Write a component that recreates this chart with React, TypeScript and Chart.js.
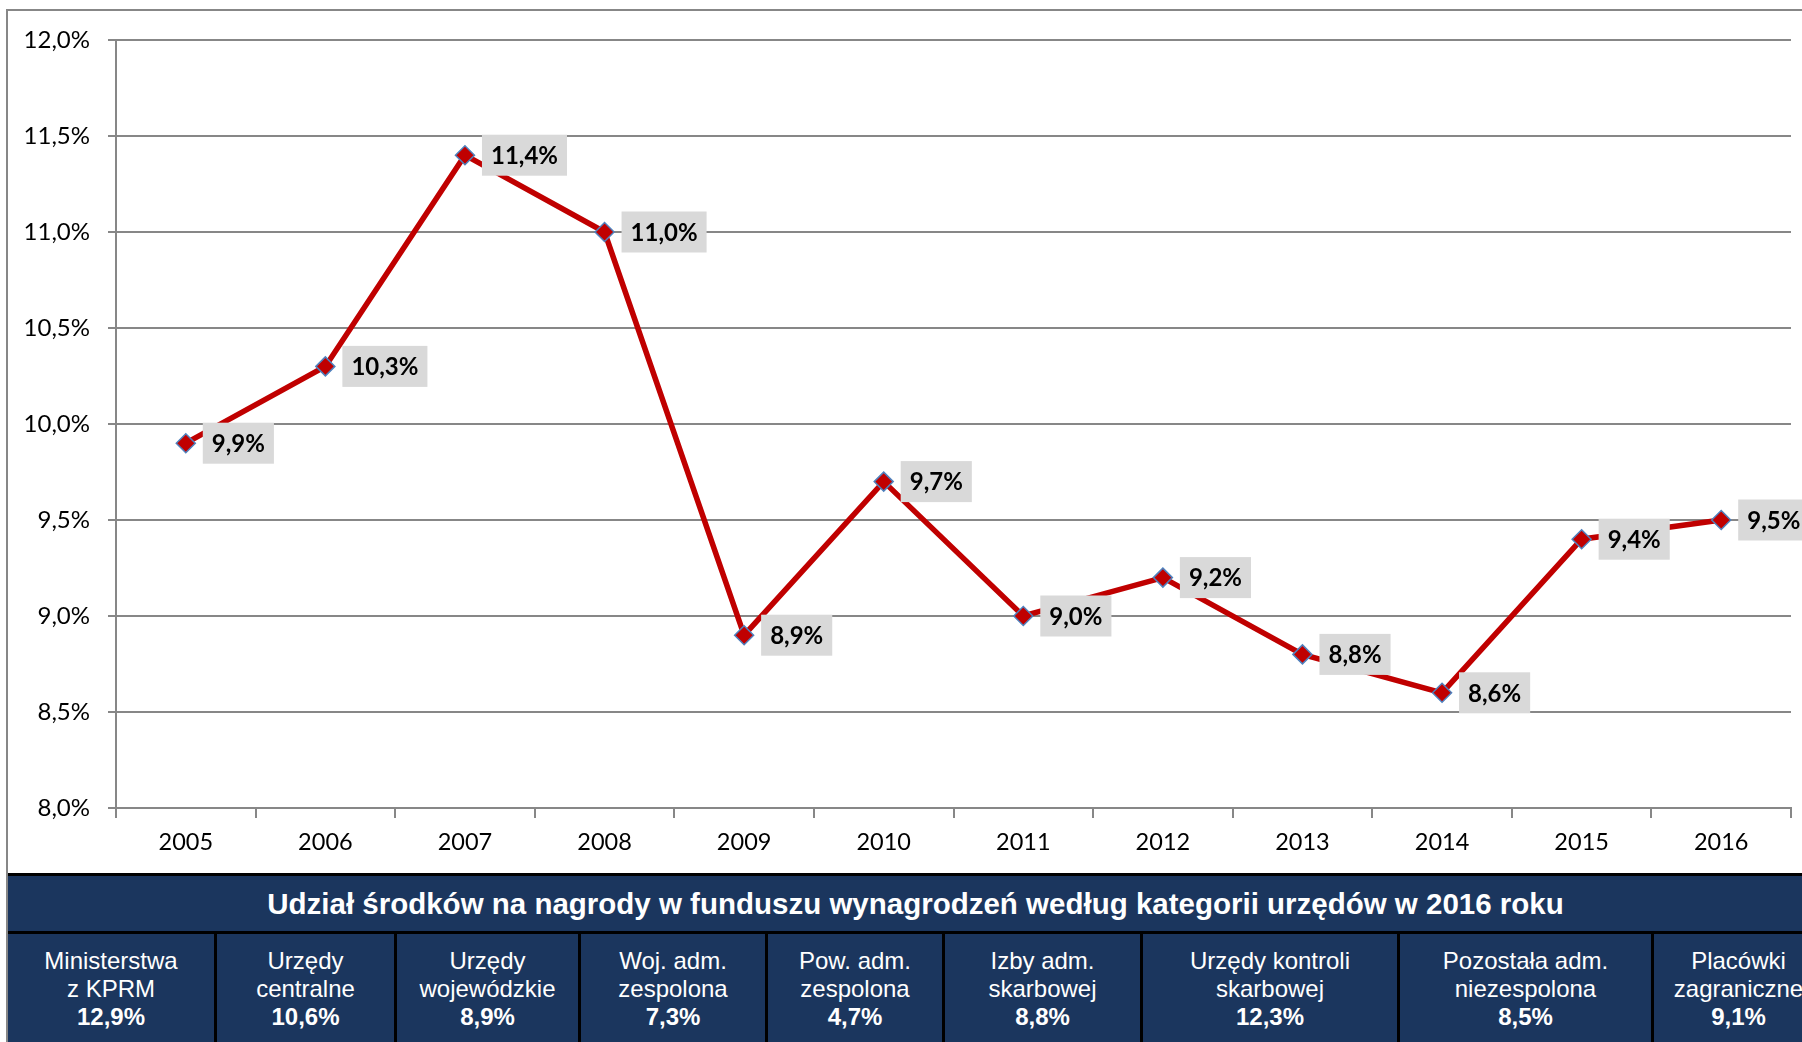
import React, { useEffect, useRef } from 'react';
import { Chart, registerables } from 'chart.js';

Chart.register(...registerables);

// ---- data ----
const years = ['2005', '2006', '2007', '2008', '2009', '2010', '2011', '2012', '2013', '2014', '2015', '2016'];
const shareValues = [9.9, 10.3, 11.4, 11.0, 8.9, 9.7, 9.0, 9.2, 8.8, 8.6, 9.4, 9.5];
const yMin = 8;
const yMax = 12;
const yStep = 0.5;

const tableTitle = 'Udział środków na nagrody w funduszu wynagrodzeń według kategorii urzędów w 2016 roku';
const officeCategories = [
  ['Ministerstwa', 'z KPRM'],
  ['Urzędy', 'centralne'],
  ['Urzędy', 'wojewódzkie'],
  ['Woj. adm.', 'zespolona'],
  ['Pow. adm.', 'zespolona'],
  ['Izby adm.', 'skarbowej'],
  ['Urzędy kontroli', 'skarbowej'],
  ['Pozostała adm.', 'niezespolona'],
  ['Placówki', 'zagraniczne'],
];
const officeShares = [12.9, 10.6, 8.9, 7.3, 4.7, 8.8, 12.3, 8.5, 9.1];

// ---- layout ----
const columnWidths = [206, 180, 184, 187, 177, 198, 257, 254, 172];
const NAVY = '#1b365e';
const GRID = '#878787';

const fmt = (v: number) => v.toFixed(1).replace('.', ',') + '%';

const labelPlugin = {
  id: 'boxLabels',
  afterDatasetsDraw(chart: any) {
    const ctx = chart.ctx;
    const meta = chart.getDatasetMeta(0);
    ctx.save();
    ctx.font = 'bold 24px Lato';
    ctx.textAlign = 'left';
    ctx.textBaseline = 'middle';
    meta.data.forEach((pt: any, i: number) => {
      const txt = fmt(shareValues[i]);
      const w = ctx.measureText(txt).width + 18;
      const h = 41;
      const x = pt.x + 17;
      const y = pt.y - h / 2;
      ctx.fillStyle = '#d9d9d9';
      ctx.fillRect(x, y, w, h);
      ctx.fillStyle = '#000000';
      ctx.fillText(txt, x + 9, pt.y + 1);
    });
    ctx.restore();
  },
};

function LineChart() {
  const ref = useRef<HTMLCanvasElement | null>(null);
  useEffect(() => {
    if (!ref.current) return;
    const chart = new Chart(ref.current, {
      type: 'line',
      data: {
        labels: years,
        datasets: [
          {
            data: shareValues,
            borderColor: '#c00000',
            borderWidth: 5.5,
            pointStyle: 'rectRot',
            pointRadius: 9.5,
            pointBackgroundColor: '#c00000',
            pointBorderColor: '#4f81bd',
            pointBorderWidth: 1.5,
            tension: 0,
            clip: false,
          } as any,
        ],
      },
      options: {
        responsive: false,
        animation: false,
        devicePixelRatio: 1,
        layout: { padding: { top: 40, right: 10, left: 0, bottom: 0 } },
        plugins: { legend: { display: false }, tooltip: { enabled: false } },
        scales: {
          x: {
            type: 'category',
            offset: true,
            grid: {
              offset: true,
              drawOnChartArea: false,
              drawTicks: true,
              tickLength: 10,
              color: GRID,
              lineWidth: 2,
            },
            border: { display: true, color: GRID, width: 2 },
            ticks: { font: { family: 'Lato', size: 23.5 }, color: '#000', padding: 10, maxRotation: 0 },
            afterFit: (s: any) => { s.height = 65; },
          },
          y: {
            min: yMin,
            max: yMax,
            ticks: {
              stepSize: yStep,
              font: { family: 'Lato', size: 24 },
              color: '#000',
              padding: 18,
              callback: (v: any) => fmt(Number(v)),
            },
            grid: { color: GRID, lineWidth: 2, drawTicks: true, tickLength: 8 },
            border: { display: true, color: GRID, width: 2 },
            afterFit: (s: any) => { s.width = 116; },
          },
        },
      },
      plugins: [labelPlugin],
    } as any);
    return () => chart.destroy();
  }, []);
  return (
    <canvas
      ref={ref}
      width={1802}
      height={873}
      style={{ position: 'absolute', left: 0, top: 0, width: 1802, height: 873 }}
    />
  );
}

export default function App() {
  return (
    <div
      style={{
        position: 'fixed',
        left: 0,
        top: 0,
        width: 1802,
        height: 1042,
        overflow: 'hidden',
        background: '#ffffff',
      }}
    >
      <div
        style={{
          position: 'absolute',
          left: 6,
          top: 9,
          width: 1900,
          height: 1100,
          borderLeft: `2px solid ${GRID}`,
          borderTop: `2px solid ${GRID}`,
          boxSizing: 'border-box',
        }}
      />
      <LineChart />
      <div
        style={{
          position: 'absolute',
          left: 8,
          top: 873,
          width: 1815,
          height: 200,
          background: NAVY,
          borderTop: '3px solid #000',
          boxSizing: 'border-box',
          fontFamily: '"Liberation Sans", Arial, sans-serif',
          color: '#ffffff',
        }}
      >
        <div
          style={{
            height: 55,
            display: 'flex',
            alignItems: 'center',
            justifyContent: 'center',
            fontWeight: 'bold',
            fontSize: 29.5,
            borderBottom: '3px solid #000',
          }}
        >
          {tableTitle}
        </div>
        <div style={{ display: 'flex' }}>
          {officeCategories.map((lines, i) => (
            <div
              key={i}
              style={{
                width: columnWidths[i],
                boxSizing: 'border-box',
                borderLeft: i === 0 ? 'none' : '3px solid #000',
                height: 140,
                paddingTop: 13,
                textAlign: 'center',
                fontSize: 24,
                lineHeight: '28px',
                whiteSpace: 'nowrap',
              }}
            >
              <div>{lines[0]}</div>
              <div>{lines[1]}</div>
              <div style={{ fontWeight: 'bold' }}>{fmt(officeShares[i])}</div>
            </div>
          ))}
        </div>
      </div>
    </div>
  );
}
